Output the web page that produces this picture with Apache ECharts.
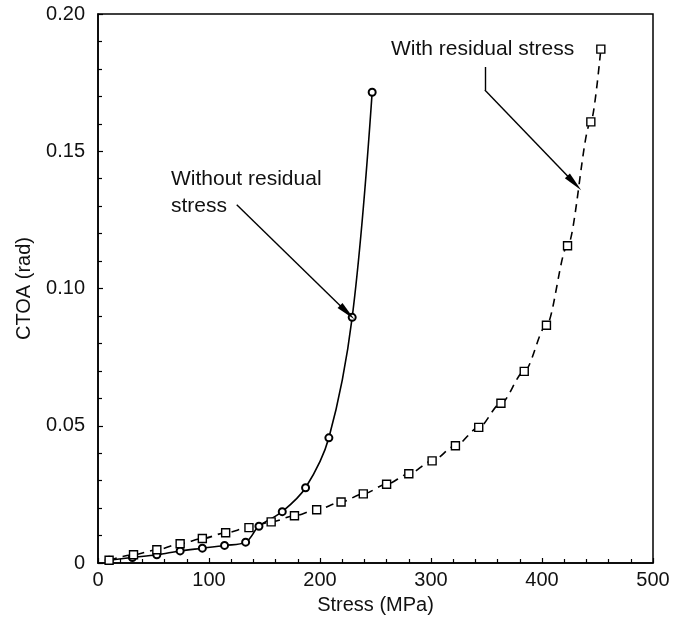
<!DOCTYPE html>
<html>
<head>
<meta charset="utf-8">
<script src="https://cdn.jsdelivr.net/npm/echarts@6/dist/echarts.min.js"></script>
<style>html,body{margin:0;padding:0;background:#fff;}#c{width:680px;height:621px;}</style>
</head>
<body>
<div id="c"></div>
<script>
// Without residual stress (solid, circles): [stress MPa, CTOA rad]
const withoutStress = [10, 31, 53, 74, 94, 114, 133, 145, 166, 187, 208, 229, 247];
const withoutCTOA   = [0.001, 0.002, 0.003, 0.0044, 0.0054, 0.0064, 0.0076, 0.0134, 0.0187, 0.0274, 0.0456, 0.0895, 0.1715];
// With residual stress (dashed, squares)
const withStress = [10, 32, 53, 74, 94, 115, 136, 156, 177, 197, 219, 239, 260, 280, 301, 322, 343, 363, 384, 404, 423, 444, 453];
const withCTOA   = [0.001, 0.003, 0.0048, 0.007, 0.0089, 0.011, 0.0129, 0.015, 0.0172, 0.0194, 0.0222, 0.0252, 0.0287, 0.0325, 0.0372, 0.0427, 0.0494, 0.0582, 0.0698, 0.0866, 0.1156, 0.1607, 0.1872];
const xTicks = [0, 100, 200, 300, 400, 500];
const yTicks = [0, 0.05, 0.10, 0.15, 0.20];
const labelWithout = ['Without residual', 'stress'];
const labelWith = 'With residual stress';

const chart = echarts.init(document.getElementById('c'), null, {renderer: 'canvas'});
const font = 'Liberation Sans, Arial, Helvetica, sans-serif';
const pair = (xs, ys) => xs.map((x, i) => [x, ys[i]]);

chart.setOption({
  animation: false,
  backgroundColor: '#fff',
  grid: {left: 98, right: 27, top: 14, bottom: 58, show: true, borderColor: '#000', borderWidth: 1.5},
  xAxis: {
    type: 'value', min: xTicks[0], max: xTicks[xTicks.length - 1], interval: 100,
    name: 'Stress (MPa)', nameLocation: 'middle', nameGap: 32,
    nameTextStyle: {fontFamily: font, fontSize: 20, color: '#111'},
    axisLine: {lineStyle: {color: '#000', width: 1.5}},
    axisTick: {inside: true, length: 5, lineStyle: {color: '#000', width: 1.2}},
    minorTick: {show: true, splitNumber: 5, length: 4, lineStyle: {color: '#000', width: 1.2}},
    axisLabel: {fontFamily: font, fontSize: 20, color: '#111', margin: 7},
    splitLine: {show: false}
  },
  yAxis: {
    type: 'value', min: yTicks[0], max: yTicks[yTicks.length - 1], interval: 0.05,
    name: 'CTOA (rad)', nameLocation: 'middle', nameGap: 64, nameRotate: 90,
    nameTextStyle: {fontFamily: font, fontSize: 20, color: '#111'},
    axisLine: {lineStyle: {color: '#000', width: 1.5}},
    axisTick: {inside: true, length: 5, lineStyle: {color: '#000', width: 1.2}},
    minorTick: {show: true, splitNumber: 5, length: 4, lineStyle: {color: '#000', width: 1.2}},
    axisLabel: {fontFamily: font, fontSize: 20, color: '#111', margin: 13,
      formatter: v => v === 0 ? '0' : v.toFixed(2)},
    splitLine: {show: false}
  },
  series: [
    {
      type: 'line', name: 'Without residual stress',
      data: pair(withoutStress, withoutCTOA),
      smooth: 0.35,
      symbol: 'emptyCircle', symbolSize: 7,
      lineStyle: {color: '#000', width: 1.6},
      itemStyle: {color: '#000', borderColor: '#000', borderWidth: 1.4},
      markLine: {
        silent: true, symbol: ['none', 'triangle'], symbolSize: [7, 20],
        lineStyle: {color: '#000', width: 1.4, type: 'solid'},
        label: {show: false},
        data: [[{coord: [125, 0.1305]}, {coord: [224.5, 0.0913]}]]
      }
    },
    {
      type: 'line', name: 'With residual stress',
      data: pair(withStress, withCTOA),
      smooth: 0.3, smoothMonotone: 'x',
      symbol: 'rect', symbolSize: 8,
      lineStyle: {color: '#000', width: 1.6, type: [8, 6]},
      itemStyle: {color: '#fff', borderColor: '#000', borderWidth: 1.4},
      markLine: {
        silent: true, symbol: ['none', 'none'],
        lineStyle: {color: '#000', width: 1.4, type: 'solid'},
        label: {show: false},
        data: [
          [{coord: [348.5, 0.1807]}, {coord: [348.5, 0.1723]}]
        ]
      }
    },
    {
      type: 'line', name: 'arrow2', data: [],
      markLine: {
        silent: true, symbol: ['none', 'triangle'], symbolSize: [7, 20],
        lineStyle: {color: '#000', width: 1.4, type: 'solid'},
        label: {show: false},
        data: [[{coord: [348.5, 0.1723]}, {coord: [429.1, 0.1384]}]]
      }
    }
  ],
  graphic: [
    {type: 'text', left: 171, top: 166, style: {text: labelWithout.join('\n'), font: '21px ' + font, fill: '#111', lineHeight: 27}},
    {type: 'text', left: 391, top: 36, style: {text: labelWith, font: '21px ' + font, fill: '#111', lineHeight: 27}}
  ]
});
</script>
</body>
</html>
